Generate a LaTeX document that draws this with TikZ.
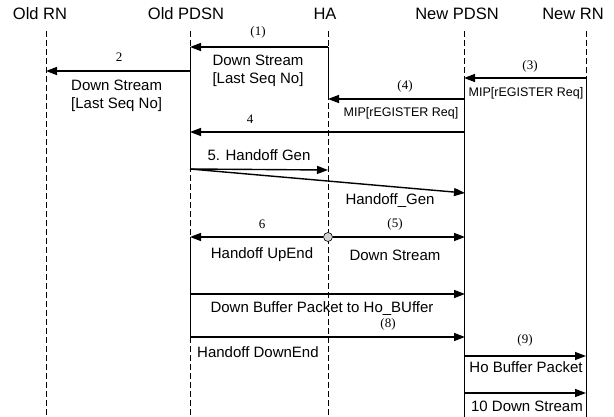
\documentclass[tikz,border=0pt]{standalone}
\usepackage{fontspec}
\setmainfont{Liberation Sans}
\newfontfamily\numfont{Liberation Serif}
\usetikzlibrary{arrows.meta,positioning,calc}
\begin{document}
\begin{tikzpicture}[x=1pt,y=-1pt,
    head/.style={font=\fontsize{16.5}{18}\selectfont, inner sep=0pt},
    lbl/.style={font=\fontsize{15}{18}\selectfont, inner sep=0pt, align=center},
    lbll/.style={font=\fontsize{15}{18}\selectfont, inner sep=0pt, align=left, anchor=west},
    mip/.style={font=\fontsize{12.5}{14}\selectfont, inner sep=0pt},
    num/.style={font=\numfont\fontsize{13}{14}\selectfont, inner sep=0pt},
    life/.style={line width=0.6pt, dash pattern=on 6pt off 3pt},
    act/.style={line width=1pt},
    msg/.style={line width=1.4pt, -{Triangle[length=11pt,width=8pt]}},
    hubnode/.style={circle, draw, line width=0.6pt, fill=gray!35, minimum size=9pt, inner sep=0pt}
]
\useasboundingbox (0,0) rectangle (614,417);
\node[head] (hoRN) at (40,14) {Old RN};
\node[head] (hoPDSN) at (186,14) {Old PDSN};
\node[head] (hHA) at (325,14) {HA};
\node[head] (hnPDSN) at (457,14) {New PDSN};
\node[head] (hnRN) at (573,14) {New RN};

\foreach \lx in {46,190,328,464,586}
  \draw[life] (\lx,31) -- (\lx,417);
\draw[act] (190,47) -- (190,170);
\draw[act] (190,237) -- (190,337);
\draw[act] (328,47) -- (328,99);
\draw[act] (464,77) -- (464,417);
\draw[act] (586,77) -- (586,417);

\coordinate (m1s) at (328,47);  \coordinate (m1e) at (190,47);
\coordinate (m2s) at (190,71);  \coordinate (m2e) at (46,71);
\coordinate (m3s) at (586,78);  \coordinate (m3e) at (464,78);
\coordinate (m4s) at (464,99);  \coordinate (m4e) at (328,99);
\coordinate (m5s) at (464,132); \coordinate (m5e) at (190,132);
\coordinate (g0) at (190,169);  \coordinate (g1) at (328,170);
\coordinate (g2) at (465,193);
\coordinate (u6) at (190,237);  \coordinate (d5) at (465,237);
\coordinate (b0) at (190,294);  \coordinate (b1) at (465,294);
\coordinate (e0) at (190,337);  \coordinate (e1) at (465,337);
\coordinate (p0) at (464,356);  \coordinate (p1) at (586,356);
\coordinate (q0) at (464,393);  \coordinate (q1) at (586,393);

\draw[msg] (m1s) -- (m1e);
\draw[msg] (m2s) -- (m2e);
\draw[msg] (m3s) -- (m3e);
\draw[msg] (m4s) -- (m4e);
\draw[msg] (m5s) -- (m5e);
\draw[msg] (g0) -- (g1);
\draw[msg] (g0) -- (g2);
\node[hubnode] (hub) at (328,237) {};
\draw[msg] (hub) -- (u6);
\draw[msg] (hub) -- (d5);
\draw[msg] (b0) -- (b1);
\draw[msg] (e0) -- (e1);
\draw[msg] (p0) -- (p1);
\draw[msg] (q0) -- (q1);

\node[num] (n1) at (258,32) {(1)};
\node[lbl] (t1) at (258,71) {Down Stream\\{[Last Seq No]}};
\node[num] (n2) at (119,57) {2};
\node[lbll] (t2) at (71,96) {Down Stream\\{[Last Seq No]}};
\node[num] (n3) at (530,66) {(3)};
\node[mip] (t3) at (526,93) {MIP[rEGISTER Req]};
\node[num] (n4) at (405,86) {(4)};
\node[mip] (t4) at (401,113) {MIP[rEGISTER Req]};
\node[num] (n4b) at (250,119) {4};
\node[lbl] (t5) at (259,155) {5. Handoff Gen};
\node[lbl] (tg) at (390,201) {Handoff\_Gen};
\node[num] (n6) at (262,224) {6};
\node[num] (n5) at (395,224) {(5)};
\node[lbl] (t6) at (262,255) {Handoff UpEnd};
\node[lbl] (t7) at (395,255) {Down Stream};
\node[lbl] (tb) at (322,309) {Down Buffer Packet to Ho\_BUffer};
\node[num] (n8) at (388,324) {(8)};
\node[lbll] (te) at (197,352) {Handoff DownEnd};
\node[num] (n9) at (525,340) {(9)};
\node[lbl] (tp) at (526,367) {Ho Buffer Packet};
\node[lbl] (tq) at (527,406) {10 Down Stream};
\end{tikzpicture}
\end{document}
